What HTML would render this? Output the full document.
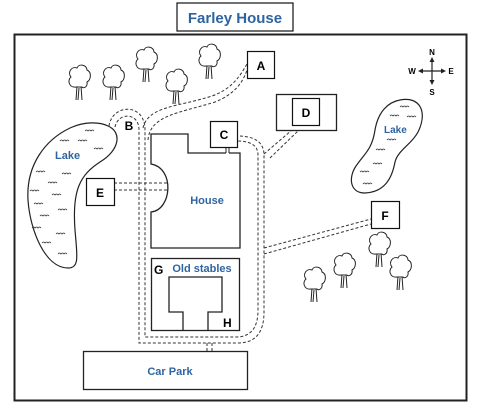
<!DOCTYPE html>
<html><head><style>
body{margin:0;background:#fff;width:482px;height:412px;overflow:hidden}
svg{display:block}
text{font-family:"Liberation Sans",sans-serif;font-weight:bold}
.b{fill:#2e64a0}
</style></head><body>
<svg width="482" height="412" viewBox="0 0 482 412" xmlns="http://www.w3.org/2000/svg">
<defs>
<g id="tree" fill="none" stroke="#222" stroke-width="1">
<path d="M-3,22 L-2,8 M3,22 L2,8 M-1,22 L0,10" />
<path d="M-3,9 C-10,10 -12,2 -8,-1 C-12,-6 -7,-12 -2,-10 C0,-15 8,-13 8,-8 C13,-6 12,2 8,4 C9,9 4,11 3,9 Z" fill="#fff"/>
</g>
<g id="w" fill="none" stroke="#333" stroke-width="0.8"><path d="M0,0 q1.5,-2 3,0 q1.5,-2 3,0 q1.5,-2 3,0"/></g>
</defs>
<rect x="177" y="3" width="116" height="28" fill="#fff" stroke="#111" stroke-width="1.2"/>
<text x="235" y="23" text-anchor="middle" font-size="15" class="b">Farley House</text>
<rect x="14.5" y="34.5" width="452" height="366" fill="none" stroke="#222" stroke-width="2"/>

<use href="#tree" x="79" y="78"/>
<use href="#tree" x="113" y="78"/>
<use href="#tree" x="146" y="60"/>
<use href="#tree" x="176" y="82"/>
<use href="#tree" x="209" y="57"/>
<use href="#tree" x="314" y="280"/>
<use href="#tree" x="344" y="266"/>
<use href="#tree" x="379" y="245"/>
<use href="#tree" x="400" y="268"/>

<g fill="none" stroke="#333" stroke-width="1" stroke-dasharray="3,2">
<path d="M109,126 C112,104 145,102 145,130 L145,337 L236,337 Q258,337 258,310 L258,155 Q258,141 237,141"/>
<path d="M115,127 C118,112 139,112 139,130 L139,343 L238,343 Q264,343 264,312 L264,155 Q264,136 237,136"/>
<path d="M148,140 C150,115 180,113 215,102 C235,94 243,82 247,70"/>
<path d="M143,128 C148,106 178,107 212,96 C232,89 240,76 247,64"/>
<path d="M264,154 L292,130 M270,158 L299,130"/>
<path d="M264,248 L371,219 M264,254 L371,224"/>
<path d="M114,183 L170,183 M114,190 L170,190"/>
<path d="M207,343 L207,351 M212,343 L212,351"/>
</g>

<path d="M229,153 L240,153 L240,248 L151,248 L151,212 C172,210 175,168 151,164 L151,134 L188,134 L188,153 L226,153" fill="#fff" stroke="#222" stroke-width="1.3"/>
<path d="M226,153 L226,148 M229,153 L229,148" stroke="#222" stroke-width="1"/>
<text x="207" y="204" text-anchor="middle" font-size="11" class="b">House</text>

<rect x="151.5" y="258.5" width="88" height="72" fill="#fff" stroke="#222" stroke-width="1.3"/>
<path d="M183,330 L183,312 L169,312 L169,277 L222,277 L222,312 L208,312 L208,330" fill="none" stroke="#222" stroke-width="1.3"/>
<text x="154" y="274" font-size="12">G</text>
<text x="202" y="272" text-anchor="middle" font-size="11" class="b">Old stables</text>
<text x="223" y="327" font-size="12">H</text>

<rect x="83.5" y="351.5" width="164" height="38" fill="none" stroke="#222" stroke-width="1.3"/>
<text x="170" y="375" text-anchor="middle" font-size="11" class="b">Car Park</text>

<rect x="276.5" y="94.5" width="60" height="36" fill="#fff" stroke="#222" stroke-width="1.3"/>

<path d="M108,126 C122,132 120,150 100,162 C80,175 72,190 75,230 C77,255 80,268 68,268 C45,268 30,230 28,200 C26,165 45,140 70,128 C85,121 100,122 108,126 Z" fill="#fff" stroke="#222" stroke-width="1.2"/>
<text x="55" y="159" font-size="11" class="b">Lake</text>
<use href="#w" x="85" y="131"/><use href="#w" x="60" y="141"/><use href="#w" x="78" y="141"/><use href="#w" x="94" y="149"/>
<use href="#w" x="36" y="172"/><use href="#w" x="62" y="174"/><use href="#w" x="48" y="183"/><use href="#w" x="30" y="191"/>
<use href="#w" x="52" y="195"/><use href="#w" x="34" y="204"/><use href="#w" x="58" y="210"/><use href="#w" x="40" y="216"/>
<use href="#w" x="32" y="228"/><use href="#w" x="56" y="234"/><use href="#w" x="42" y="243"/><use href="#w" x="58" y="254"/>
<path d="M400,100 C420,96 428,112 418,132 C412,144 398,150 395,162 C392,178 385,192 365,193 C350,193 348,178 356,166 C364,154 372,150 375,130 C378,112 388,102 400,100 Z" fill="#fff" stroke="#222" stroke-width="1.2"/>
<text x="384" y="133" font-size="10" class="b">Lake</text>
<use href="#w" x="400" y="107"/><use href="#w" x="390" y="116"/><use href="#w" x="407" y="117"/>
<use href="#w" x="387" y="140"/><use href="#w" x="376" y="150"/><use href="#w" x="373" y="164"/><use href="#w" x="360" y="172"/><use href="#w" x="363" y="184"/>

<g stroke="#222" stroke-width="1.2" fill="#222">
<line x1="432" y1="60" x2="432" y2="83"/><line x1="420" y1="71" x2="444" y2="71"/>
<path d="M432,57 l-2.5,5 h5z M432,85 l-2.5,-5 h5z M418,71 l5,-2.5 v5z M446,71 l-5,-2.5 v5z" stroke="none"/>
</g>
<text x="432" y="55" text-anchor="middle" font-size="8">N</text>
<text x="432" y="95" text-anchor="middle" font-size="8">S</text>
<text x="412" y="74" text-anchor="middle" font-size="8">W</text>
<text x="451" y="74" text-anchor="middle" font-size="8">E</text>

<g fill="#fff" stroke="#111" stroke-width="1.2">
<rect x="247.5" y="51.5" width="27" height="27"/>
<rect x="292.5" y="98.5" width="27" height="27"/>
<rect x="210.5" y="121.5" width="27" height="26"/>
<rect x="86.5" y="178.5" width="28" height="27"/>
<rect x="371.5" y="201.5" width="28" height="27"/>
</g>
<g font-size="12" text-anchor="middle">
<text x="261" y="70">A</text>
<text x="306" y="117">D</text>
<text x="224" y="139">C</text>
<text x="100" y="197">E</text>
<text x="385" y="220">F</text>
<text x="129" y="130">B</text>
</g>
</svg>
</body></html>
